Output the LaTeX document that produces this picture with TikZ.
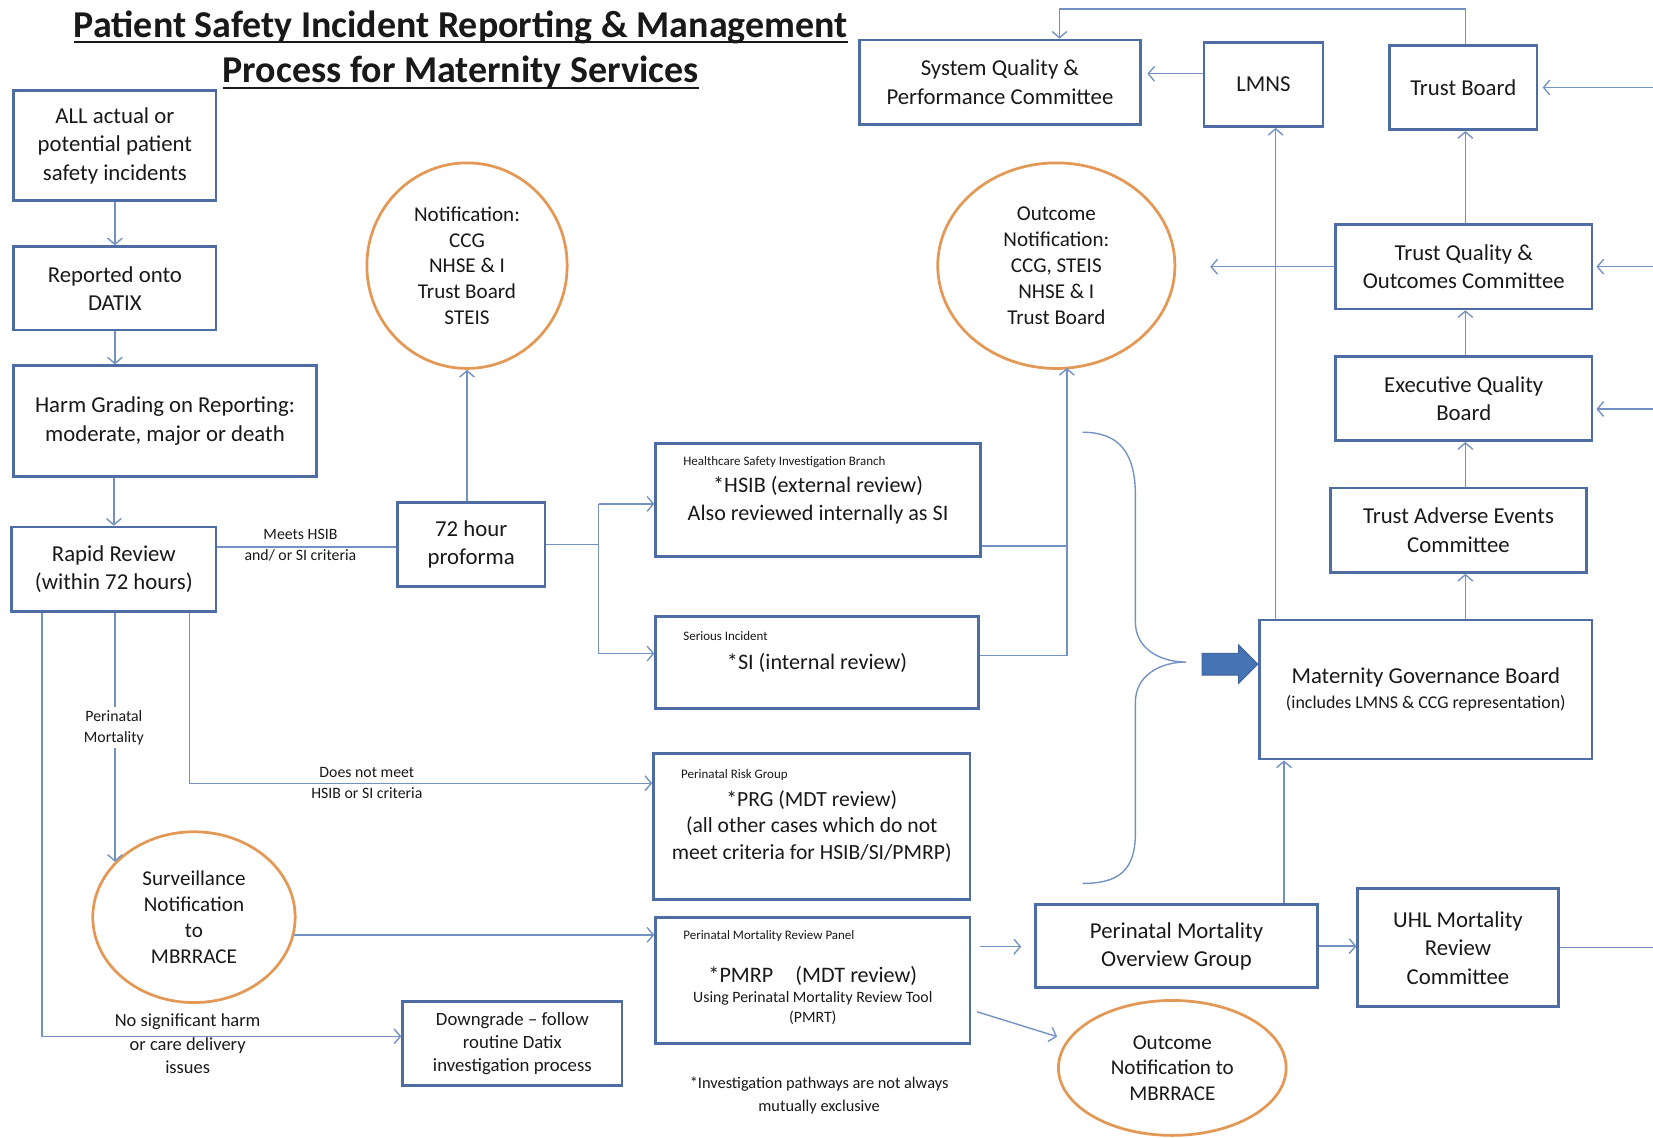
\documentclass[tikz,border=0pt]{standalone}
\usepackage{fontspec}
\setmainfont{Carlito}
\usetikzlibrary{arrows.meta,shapes.geometric,shapes.arrows}
\definecolor{boxblue}{RGB}{79,109,165}
\definecolor{lineblue}{RGB}{115,145,195}
\definecolor{circ}{RGB}{228,152,86}
\definecolor{bigarrow}{RGB}{70,115,180}
\definecolor{txt}{RGB}{25,25,25}
\newcommand\tul[1]{\setbox0\hbox{#1}\rlap{\rule[-6pt]{\wd0}{1.8pt}}\box0}
\begin{document}
\begin{tikzpicture}[x=1pt,y=-1pt,
  box/.style={draw=boxblue,line width=2.6pt,fill=white,align=center,inner sep=0pt,text=txt,font=\fontsize{21.6}{27}\selectfont},
  circnode/.style={ellipse,draw=circ,line width=2.6pt,fill=white,align=center,inner sep=0pt,text=txt,font=\fontsize{20}{24.5}\selectfont},
  conn/.style={draw=lineblue,line width=1.3pt},
  arr/.style={conn,-{Straight Barb[length=6pt,width=14pt]}},
  lbl/.style={align=center,inner sep=0pt,text=txt,font=\fontsize{15}{20}\selectfont},
  tinyhead/.style={anchor=west,inner sep=0pt,text=txt,font=\fontsize{12.3}{14}\selectfont},
]
\useasboundingbox (0,0) rectangle (1568,1079);
\fill[white] (0,0) rectangle (1568,1079);

% title
\node[font=\bfseries\fontsize{36}{43}\selectfont, align=center, inner sep=0pt, text=txt] (title) at (437,47)
  {\tul{Patient Safety Incident Reporting \& Management}\\ \tul{Process for Maternity Services}};

% left column
\node[box,minimum width=192pt,minimum height=104pt] (all) at (109,138) {ALL actual or\\potential patient\\safety incidents};
\node[box,minimum width=192pt,minimum height=79pt] (datix) at (109,273.5) {Reported onto\\DATIX};
\node[box,minimum width=287pt,minimum height=105pt] (harm) at (156.5,399.5) {Harm Grading on Reporting:\\moderate, major or death};
\node[box,minimum width=194pt,minimum height=80pt] (rapid) at (108,540) {Rapid Review\\(within 72 hours)};
\node[box,minimum width=140pt,minimum height=79pt] (proforma) at (447,516.5) {72 hour\\proforma};

% circles
\node[circnode,minimum width=190pt,minimum height=195pt] (notif) at (443,252) {Notification:\\CCG\\NHSE \& I\\Trust Board\\STEIS};
\node[circnode,minimum width=225pt,minimum height=195pt] (outc) at (1002,252) {Outcome\\Notification:\\CCG, STEIS\\NHSE \& I\\Trust Board};
\node[circnode,minimum width=192pt,minimum height=162pt] (surv) at (184,870) {Surveillance\\Notification\\to\\MBRRACE};
\node[circnode,minimum width=216pt,minimum height=128pt,font=\fontsize{20}{24}\selectfont] (ombr) at (1112,1013) {Outcome\\Notification to\\MBRRACE};

% investigation boxes
\node[box,minimum width=308pt,minimum height=107pt,font=\fontsize{21}{27}\selectfont] (hsib) at (776,474.5) {*HSIB (external review)\\Also reviewed internally as SI};
\node[tinyhead] (hsibhead) at (648,438) {Healthcare Safety Investigation Branch};
\node[box,minimum width=306pt,minimum height=87pt,font=\fontsize{21}{27}\selectfont] (si) at (775,628.5) {*SI (internal review)};
\node[tinyhead] (sihead) at (648,603) {Serious Incident};
\node[box,minimum width=300pt,minimum height=138pt,font=\fontsize{20.5}{25}\selectfont] (prg) at (770,784) {*PRG (MDT review)\\(all other cases which do not\\meet criteria for HSIB/SI/PMRP)};
\node[tinyhead] (prghead) at (646,735) {Perinatal Risk Group};
\node[box,minimum width=298pt,minimum height=120pt] (pmrp) at (771,930) {};
\node[tinyhead] (pmrphead) at (648,888) {Perinatal Mortality Review Panel};
\node[align=center,inner sep=0pt,text=txt,font=\fontsize{15}{19}\selectfont] (pmrptext) at (771,944)
  {\fontsize{21}{24}\selectfont *PMRP\quad(MDT review)\\ Using Perinatal Mortality Review Tool\\(PMRT)};
\node[box,minimum width=208pt,minimum height=80pt,font=\fontsize{17.8}{22}\selectfont] (down) at (486,990) {Downgrade – follow\\routine Datix\\investigation process};

% right side
\node[box,minimum width=268pt,minimum height=79pt] (pmog) at (1116,897.5) {Perinatal Mortality\\Overview Group};
\node[box,minimum width=190pt,minimum height=112pt] (uhl) at (1383,899) {UHL Mortality\\Review\\Committee};
\node[box,minimum width=315pt,minimum height=132pt,font=\fontsize{17}{23}\selectfont] (mgb) at (1352.5,654) {\fontsize{21.6}{27}\selectfont Maternity Governance Board\\(includes LMNS \& CCG representation)};
\node[box,minimum width=243pt,minimum height=80pt] (tae) at (1383.5,503) {Trust Adverse Events\\Committee};
\node[box,minimum width=243pt,minimum height=80pt] (eqb) at (1388.5,378) {Executive Quality\\Board};
\node[box,minimum width=243pt,minimum height=80pt] (tqoc) at (1388.5,253) {Trust Quality \&\\Outcomes Committee};
\node[box,minimum width=140pt,minimum height=80pt] (tb) at (1388,83) {Trust Board};
\node[box,minimum width=113pt,minimum height=80pt] (lmns) at (1198.5,80) {LMNS};
\node[box,minimum width=267pt,minimum height=80pt] (sqpc) at (948.5,78) {System Quality \&\\Performance Committee};

% helper coordinates
\coordinate (sp1) at (568,478);
\coordinate (sp2) at (568,620);
\coordinate (oc) at (1012,349);
\coordinate (cx) at (1390,0);
\coordinate (tqocend) at (1148,253);
\coordinate (e1) at (1568,83);
\coordinate (e2) at (1568,253);
\coordinate (e3) at (1568,388);
\coordinate (eu) at (1568,898);

% left chain
\draw[arr] (all.south) -- (datix.north);
\draw[arr] (datix.south) -- (datix.south |- harm.north);
\draw[arr] (harm.south -| rapid.north) -- (rapid.north);
\draw[conn] ([yshift=21pt]rapid.east) -- ([yshift=21pt]rapid.east -| proforma.west);
\draw[arr] (proforma.north -| notif.south) -- (notif.south);
\draw[conn] (proforma.east) -- (proforma.east -| sp1);
\draw[conn] (sp1) -- (sp2);
\draw[arr] (sp1) -- (sp1 -| hsib.west);
\draw[arr] (sp2) -- (sp2 -| si.west);
\draw[conn] ([yshift=-43.5pt]hsib.east) -- ([yshift=-43.5pt]hsib.east -| oc);
\draw[conn] ([yshift=6.5pt]si.east) -- ([yshift=6.5pt]si.east -| oc);
\draw[arr] ([yshift=6.5pt]si.east -| oc) -- (oc);

% rapid review outputs
\draw[arr] ([xshift=-68pt]rapid.south) |- ([yshift=7pt]down.west);
\draw[arr] (rapid.south -| surv.145) -- (surv.145);
\draw[arr] ([xshift=72pt]rapid.south) |- ([yshift=41pt]prg.west);
\draw[arr] (surv.-10) -- (surv.-10 -| pmrp.west);
\draw[arr,shorten <=8pt,shorten >=12pt] ([yshift=32pt]pmrp.east) -- ([yshift=32pt]pmrp.east -| pmog.west);
\draw[arr,shorten <=6pt,shorten >=10pt] ([yshift=-28pt]pmrp.east) -- (ombr.165);
\draw[arr] (pmog.east) -- (pmog.east -| uhl.west);
\draw[arr] ([xshift=102pt]pmog.north) -- ([xshift=102pt]pmog.north |- mgb.south);
\draw[conn] (uhl.east) -- (uhl.east -| eu);

% brace and big arrow
\draw[conn] (1027,410) .. controls (1062,410) and (1077,430) .. (1077,470) -- (1077,590)
  .. controls (1077,615) and (1100,628) .. (1125,628)
  .. controls (1100,628) and (1077,641) .. (1077,666) -- (1077,790)
  .. controls (1077,825) and (1062,838) .. (1027,838);
\node[single arrow, fill=bigarrow, draw=bigarrow!85!black, line width=0.8pt, minimum height=53pt,
  inner xsep=0pt, inner ysep=10pt, single arrow head extend=8pt] (bigarr) at (1161.5,630) {};

% governance chain
\draw[arr] (mgb.north -| cx) -- (tae.south -| cx);
\draw[arr] (tae.north -| cx) -- (eqb.south -| cx);
\draw[arr] (eqb.north -| cx) -- (tqoc.south -| cx);
\draw[arr] (tqoc.north -| cx) -- (tb.south -| cx);
\draw[arr] (tb.north -| cx) -- ++(0,-33) -| ([xshift=56.5pt]sqpc.north);
\draw[arr] ([xshift=-142.5pt]mgb.north) -- ([xshift=-142.5pt]mgb.north |- lmns.south);
\draw[arr] (tqoc.west) -- (tqocend);
\draw[arr,shorten >=5pt] ([yshift=10pt]lmns.west) -- ([yshift=10pt]lmns.west -| sqpc.east);
\draw[arr,shorten >=4pt] (e1) -- (e1 -| tb.east);
\draw[arr,shorten >=3pt] (e2) -- (e2 -| tqoc.east);
\draw[arr,shorten >=3pt] (e3) -- (e3 -| eqb.east);

% labels
\node[lbl] (meets) at (285,517) {Meets HSIB\\and/ or SI criteria};
\node[lbl] (dnm) at (348,743) {Does not meet\\HSIB or SI criteria};
\node[lbl,fill=white,inner sep=3pt] (perimort) at (108,690) {Perinatal\\Mortality};
\node[lbl,font=\fontsize{17.5}{22}\selectfont] (nosig) at (178,990) {No significant harm\\or care delivery\\issues};
\node[lbl,font=\fontsize{15.5}{22}\selectfont] (foot) at (777,1039) {*Investigation pathways are not always\\mutually exclusive};
\end{tikzpicture}
\end{document}
